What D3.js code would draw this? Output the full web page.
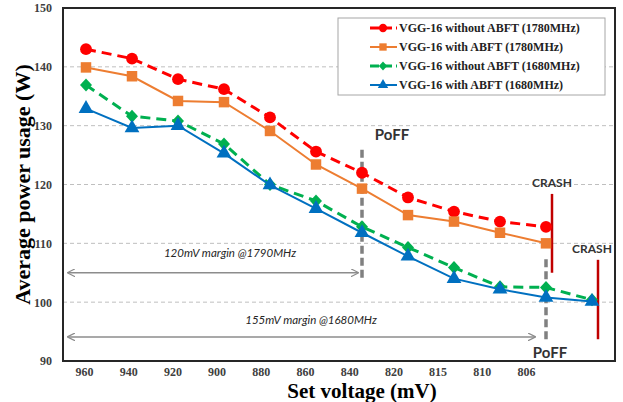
<!DOCTYPE html>
<html>
<head>
<meta charset="utf-8">
<script src="https://cdn.jsdelivr.net/npm/d3@7"></script>
<style>
body { margin: 0; background: #fff; }
.serif { font-family: "Liberation Serif", "Times New Roman", "DejaVu Serif", serif; font-weight: bold; }
</style>
</head>
<body>
<svg id="chart" width="623" height="402"></svg>
<script>
// categories (last slot has no label)
const voltages = ["960", "940", "920", "900", "880", "860", "840", "820", "815", "810", "806", ""];
const yTicks = [90, 100, 110, 120, 130, 140, 150];

const red_vals = [143, 141.4, 137.9, 136.2, 131.4, 125.6, 122, 117.8, 115.4, 113.7, 112.8];
const orange_vals = [139.9, 138.4, 134.2, 134, 129.1, 123.4, 119.3, 114.8, 113.7, 111.8, 110];
const green_vals = [136.9, 131.6, 130.8, 126.9, 120, 117.2, 112.8, 109.3, 105.9, 102.6, 102.5, 100.4];
const blue_vals = [132.9, 129.6, 130, 125.3, 119.9, 115.9, 111.8, 107.8, 104, 102.2, 100.8, 100.1];

const series = [
	{ name: "VGG-16 without ABFT (1780MHz)", values: red_vals, color: "#ff0000", dash: "10,6", width: 3, marker: "circle" },
	{ name: "VGG-16 with ABFT (1780MHz)", values: orange_vals, color: "#ed7d31", dash: null, width: 2, marker: "square" },
	{ name: "VGG-16 without ABFT (1680MHz)", values: green_vals, color: "#00b050", dash: "10,6", width: 3, marker: "diamond" },
	{ name: "VGG-16 with ABFT (1680MHz)", values: blue_vals, color: "#0070c0", dash: null, width: 2, marker: "triangle" },
];

const svg = d3.select("#chart");
const p_left = 63, p_right = 615, p_top = 8, p_bottom = 361;

const x = d3.scaleBand().domain(d3.range(voltages.length)).range([p_left, p_right]);
const cx = (i) => x(i) + x.bandwidth() / 2;
const y = d3.scaleLinear().domain([90, 150]).range([p_bottom, p_top]);

// gridlines
svg.append("g")
	.selectAll("line")
	.data(yTicks.filter((t) => t > 90 && t < 150))
	.join("line")
	.attr("x1", p_left).attr("x2", p_right)
	.attr("y1", (d) => y(d)).attr("y2", (d) => y(d))
	.attr("stroke", "#bfbfbf")
	.attr("stroke-width", 1)
	.attr("stroke-dasharray", "4,3");

// y axis labels
const yAxis = svg.append("g")
	.attr("transform", `translate(${p_left},0)`)
	.call(d3.axisLeft(y).tickValues(yTicks).tickSize(0).tickPadding(11));
yAxis.select(".domain").remove();
yAxis.attr("font-family", null).attr("font-size", null);
yAxis.selectAll("text")
	.attr("class", "serif")
	.style("font-size", "12px")
	.attr("fill", "#404040");

// x axis labels (sit a bit left of the points, like the source)
const labelScale = d3.scalePoint()
	.domain(voltages.slice(0, 11))
	.range([cx(0) - 2, cx(10) - 20]);
const xAxis = svg.append("g")
	.attr("transform", `translate(0,${p_bottom})`)
	.call(d3.axisBottom(labelScale).tickSize(0).tickPadding(6));
xAxis.select(".domain").remove();
xAxis.attr("font-family", null).attr("font-size", null);
xAxis.selectAll("text")
	.attr("class", "serif")
	.style("font-size", "12px")
	.attr("fill", "#404040");

// axis titles
svg.append("text")
	.attr("class", "serif")
	.attr("transform", `translate(30,${(p_top + p_bottom) / 2}) rotate(-90)`)
	.attr("text-anchor", "middle")
	.style("font-size", "22px")
	.text("Average power usage (W)");
svg.append("text")
	.attr("class", "serif")
	.attr("x", 362).attr("y", 398)
	.attr("text-anchor", "middle")
	.style("font-size", "21px")
	.text("Set voltage (mV)");

// annotations
const grayArrow = "#8c8c8c";
const defs = svg.append("defs");
defs.append("marker")
	.attr("id", "ah")
	.attr("viewBox", "0 0 10 10")
	.attr("refX", 9).attr("refY", 5)
	.attr("markerWidth", 8).attr("markerHeight", 8)
	.attr("markerUnits", "userSpaceOnUse")
	.attr("orient", "auto-start-reverse")
	.append("path")
	.attr("d", "M0,0 L10,5 L0,10")
	.attr("fill", "none")
	.attr("stroke", grayArrow)
	.attr("stroke-width", 1.5);

const margins = [
	{ text: "120mV margin @1790MHz", y: 105, to: 6, dx: -4, ty: 107.6, at: 3, tx: 6 },
	{ text: "155mV margin @1680MHz", y: 94.1, to: 10, dx: -11, ty: 96.3, at: 5, tx: -5 },
];
margins.forEach((m) => {
	svg.append("line")
		.attr("x1", p_left + 5).attr("x2", cx(m.to) + m.dx)
		.attr("y1", y(m.y)).attr("y2", y(m.y))
		.attr("stroke", grayArrow)
		.attr("stroke-width", 1.5)
		.attr("marker-start", "url(#ah)")
		.attr("marker-end", "url(#ah)");
	svg.append("text")
		.attr("x", cx(m.at) + m.tx)
		.attr("y", y(m.ty))
		.attr("text-anchor", "middle")
		.attr("font-family", "Lato")
		.attr("font-style", "italic")
		.attr("font-size", 11.5)
		.attr("fill", "#262626")
		.text(m.text);
});

const poff = [
	{ at: 6, y1: 125.9, y2: 103.9, ly: 127.5, lx: 30 },
	{ at: 10, y1: 107.3, y2: 93.6, ly: 90.5, lx: 4 },
];
poff.forEach((p) => {
	svg.append("line")
		.attr("x1", cx(p.at)).attr("x2", cx(p.at))
		.attr("y1", y(p.y1)).attr("y2", y(p.y2))
		.attr("stroke", "#808080")
		.attr("stroke-width", 3.5)
		.attr("stroke-dasharray", "8,4");
	svg.append("text")
		.attr("x", cx(p.at) + p.lx)
		.attr("y", y(p.ly))
		.attr("text-anchor", "middle")
		.attr("font-family", "Lato")
		.attr("font-weight", "bold")
		.attr("font-size", 15)
		.attr("fill", "#333")
		.text("PoFF");
});

const crash = [
	{ at: 10, y1: 118.4, y2: 105, ly: 119.6, lx: 6 },
	{ at: 11, y1: 107.2, y2: 93.7, ly: 108.3, lx: 0 },
];
crash.forEach((c) => {
	svg.append("line")
		.attr("x1", cx(c.at) + 6).attr("x2", cx(c.at) + 6)
		.attr("y1", y(c.y1)).attr("y2", y(c.y2))
		.attr("stroke", "#c00000")
		.attr("stroke-width", 2.5);
	svg.append("text")
		.attr("x", cx(c.at) + c.lx)
		.attr("y", y(c.ly))
		.attr("text-anchor", "middle")
		.attr("font-family", "Lato")
		.attr("font-weight", "bold")
		.attr("font-size", 12)
		.attr("fill", "#333")
		.text("CRASH");
});

// series lines and markers
const markerPath = {
	circle: d3.symbol(d3.symbolCircle, 110)(),
	square: d3.symbol(d3.symbolSquare, 110)(),
	diamond: "M0,-6.5L6,0L0,6.5L-6,0Z",
	triangle: d3.symbol(d3.symbolTriangle, 95)(),
};
const line = d3.line().x((d, i) => cx(i)).y((d) => y(d));

series.forEach((s) => {
	const g = svg.append("g");
	g.append("path")
		.datum(s.values)
		.attr("d", line)
		.attr("fill", "none")
		.attr("stroke", s.color)
		.attr("stroke-width", s.width)
		.attr("stroke-dasharray", s.dash);
	g.selectAll("path.m")
		.data(s.values)
		.join("path")
		.attr("class", "m")
		.attr("transform", (d, i) => `translate(${cx(i)},${y(d)})`)
		.attr("d", markerPath[s.marker])
		.attr("fill", s.color);
});

// frame
svg.append("rect")
	.attr("x", p_left).attr("y", p_top)
	.attr("width", p_right - p_left).attr("height", p_bottom - p_top)
	.attr("fill", "none")
	.attr("stroke", "#262626")
	.attr("stroke-width", 2);

// legend
const lg = svg.append("g").attr("transform", "translate(338,18)");
lg.append("rect")
	.attr("width", 267).attr("height", 77)
	.attr("fill", "#fff")
	.attr("stroke", "#a6a6a6")
	.attr("stroke-width", 1);
series.forEach((s, i) => {
	const row = lg.append("g").attr("transform", `translate(0,${10 + i * 19})`);
	row.append("line")
		.attr("x1", 32).attr("x2", 59)
		.attr("stroke", s.color)
		.attr("stroke-width", s.width)
		.attr("stroke-dasharray", s.dash ? "9,4" : null);
	row.append("path")
		.attr("transform", "translate(45,0) scale(0.7)")
		.attr("d", markerPath[s.marker])
		.attr("fill", s.color);
	row.append("text")
		.attr("class", "serif")
		.attr("x", 61).attr("y", 4)
		.style("font-size", "12px")
		.attr("fill", "#222")
		.text(s.name);
});
</script>
</body>
</html>
